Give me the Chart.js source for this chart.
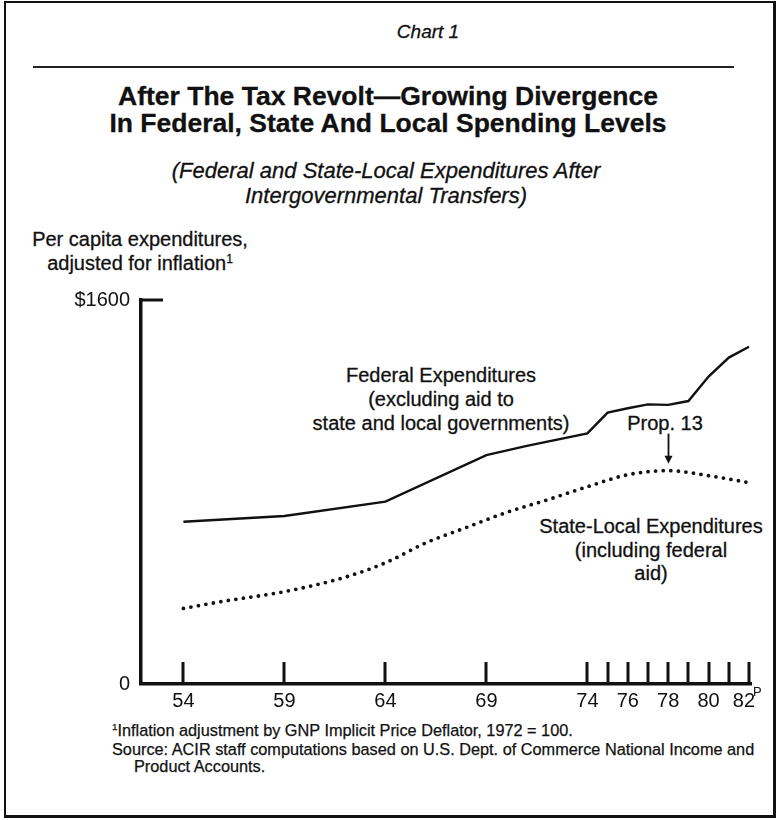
<!DOCTYPE html>
<html>
<head>
<meta charset="utf-8">
<title>After The Tax Revolt</title>
<script src="https://cdn.jsdelivr.net/npm/chart.js@4.4.0/dist/chart.umd.min.js"></script>
<style>
  html, body { margin: 0; padding: 0; background: #fff; }
  body {
    width: 778px; height: 820px; position: relative; overflow: hidden;
    font-family: "Liberation Sans", Arial, Helvetica, sans-serif; color: #111;
  }
  #frame {
    position: absolute; left: 4px; top: 1px; width: 767px; height: 812px;
    border: 2px solid #111; border-right-width: 3px; border-bottom-width: 3px;
  }
  #rule { position: absolute; left: 33px; top: 66px; width: 701px; height: 0; border-top: 2px solid #222; }
  #chartBox { position: absolute; left: 0; top: 0; width: 778px; height: 820px; }
  .t {
    position: absolute; white-space: nowrap; text-align: center; transform: translate(-50%, -50%);
    -webkit-text-stroke: 0.3px #111;
  }
  .foot {
    position: absolute; left: 112px; top: 722px; font-size: 16.3px; line-height: 17px; white-space: nowrap;
    -webkit-text-stroke: 0.25px #111;
  }
  sup { font-size: 60%; vertical-align: 0; position: relative; top: -0.6em; }
</style>
</head>
<body>
<div id="frame"></div>

<div class="t" style="left:428px; top:32px; font-size:19px; font-style:italic;">Chart 1</div>
<div id="rule"></div>

<div class="t" style="left:388px; top:110px; font-size:26.5px; line-height:27px; font-weight:bold;">
  After The Tax Revolt—Growing Divergence<br>In Federal, State And Local Spending Levels
</div>
<div class="t" style="left:386px; top:183px; font-size:22px; line-height:25px; font-style:italic;">
  (Federal and State-Local Expenditures After<br>Intergovernmental Transfers)
</div>

<div class="t" style="left:140px; top:252px; font-size:20px; line-height:24px;">
  Per capita expenditures,<br>adjusted for inflation<sup>1</sup>
</div>

<div class="t" style="left:441px; top:399px; font-size:20px; line-height:24px;">
  Federal Expenditures<br>(excluding aid to<br>state and local governments)
</div>
<div class="t" style="left:665px; top:423px; font-size:20px; line-height:24px;">Prop. 13</div>
<div class="t" style="left:651px; top:550px; font-size:20px; line-height:23.5px;">
  State-Local Expenditures<br>(including federal<br>aid)
</div>

<div class="foot">
  <sup>1</sup>Inflation adjustment by GNP Implicit Price Deflator, 1972 = 100.<br>
  Source: ACIR staff computations based on U.S. Dept. of Commerce National Income and<br>
  <span style="padding-left:22px;">Product Accounts.</span>
</div>

<div id="chartBox"><canvas id="chart" width="778" height="820"></canvas></div>

<script>
// federal expenditures excluding aid to state and local governments (per capita, 1972 $)
const federalYears = [54, 59, 64, 69, 71, 74, 75, 76, 77, 78, 79, 80, 81, 82];
const federalValues = [676, 700, 760, 954, 992, 1044, 1131, 1149, 1165, 1163, 1179, 1281, 1360, 1405];

// state-local expenditures including federal aid
const stateYears = [54, 56, 59, 62, 64, 66, 68, 70, 72, 74, 76, 78, 80, 82];
const stateValues = [315, 345, 385, 445, 505, 588, 652, 715, 767, 822, 872, 889, 868, 839];

const xTickYears = [54, 59, 64, 69, 74, 75, 76, 77, 78, 79, 80, 81, 82];
const xTickLabels = ['54', '59', '64', '69', '74', '', '76', '', '78', '', '80', '', '82\u2002'];
const yTickValues = [0, 1600];
const yTickLabels = ['0', '$1600'];

const propYear = 78;
const ink = '#111';
const fontFamily = '"Liberation Sans", Arial, Helvetica, sans-serif';

function toPoints(xs, ys) {
  return xs.map((x, i) => ({ x: x, y: ys[i] }));
}

// tick marks drawn upward inside the plot, the $1600 tick, the "P" and the Prop. 13 arrow
const marksPlugin = {
  id: 'marks',
  afterDraw(chart) {
    const { ctx } = chart;
    const x = chart.scales.x;
    const y = chart.scales.y;
    const base = y.getPixelForValue(0);

    ctx.save();
    ctx.strokeStyle = ink;
    ctx.lineCap = 'butt';

    ctx.lineWidth = 3;
    xTickYears.forEach(yr => {
      const px = Math.round(x.getPixelForValue(yr));
      ctx.beginPath();
      ctx.moveTo(px, base);
      ctx.lineTo(px, base - 22);
      ctx.stroke();
    });

    const top = y.getPixelForValue(1600);
    ctx.lineWidth = 3;
    ctx.beginPath();
    ctx.moveTo(x.left - 1.5, top);
    ctx.lineTo(x.left + 22, top);
    ctx.stroke();

    // superscript P on the last year label
    ctx.fillStyle = ink;
    ctx.font = '13px ' + fontFamily;
    ctx.textAlign = 'left';
    ctx.textBaseline = 'middle';
    ctx.fillText('P', x.getPixelForValue(82) + 4, base + 8);

    // Prop. 13 arrow
    const ax = Math.round(x.getPixelForValue(propYear)) + 0.5;
    const tip = y.getPixelForValue(stateValues[stateYears.indexOf(propYear)]) - 7;
    ctx.lineWidth = 1.8;
    ctx.beginPath();
    ctx.moveTo(ax, tip - 30);
    ctx.lineTo(ax, tip - 6);
    ctx.stroke();
    ctx.beginPath();
    ctx.moveTo(ax - 4, tip - 8);
    ctx.lineTo(ax + 4, tip - 8);
    ctx.lineTo(ax, tip);
    ctx.closePath();
    ctx.fill();
    ctx.restore();
  }
};

const ctx = document.getElementById('chart').getContext('2d');

new Chart(ctx, {
  type: 'line',
  data: {
    datasets: [{
      label: 'Federal Expenditures',
      data: toPoints(federalYears, federalValues),
      borderColor: ink,
      borderWidth: 2.4,
      pointRadius: 0,
      tension: 0,
      fill: false
    }, {
      label: 'State-Local Expenditures',
      data: toPoints(stateYears, stateValues),
      borderColor: ink,
      borderWidth: 3.8,
      borderDash: [0, 7.6],
      borderCapStyle: 'round',
      pointRadius: 0,
      cubicInterpolationMode: 'monotone',
      fill: false
    }]
  },
  options: {
    responsive: false,
    animation: false,
    events: [],
    layout: { padding: { top: 300, right: 27, bottom: 96, left: 0 } },
    plugins: {
      legend: { display: false },
      tooltip: { enabled: false }
    },
    scales: {
      x: {
        type: 'linear',
        min: 51.9,
        max: 82.1,
        afterBuildTicks: s => { s.ticks = xTickYears.map(v => ({ value: v })); },
        afterFit: s => { s.height = 40; },
        grid: { display: false, drawTicks: false },
        border: { display: true, width: 3.5, color: ink },
        ticks: {
          autoSkip: false,
          maxRotation: 0,
          padding: 5,
          color: ink,
          font: { size: 20, family: fontFamily },
          callback: (v, i) => xTickLabels[i]
        }
      },
      y: {
        type: 'linear',
        min: 0,
        max: 1600,
        afterBuildTicks: s => { s.ticks = yTickValues.map(v => ({ value: v })); },
        afterFit: s => { s.width = 141; },
        grid: { display: false, drawTicks: false },
        border: { display: true, width: 3.5, color: ink },
        ticks: {
          padding: 11,
          color: ink,
          font: { size: 20, family: fontFamily },
          callback: (v, i) => yTickLabels[i]
        }
      }
    }
  },
  plugins: [marksPlugin]
});
</script>
</body>
</html>
